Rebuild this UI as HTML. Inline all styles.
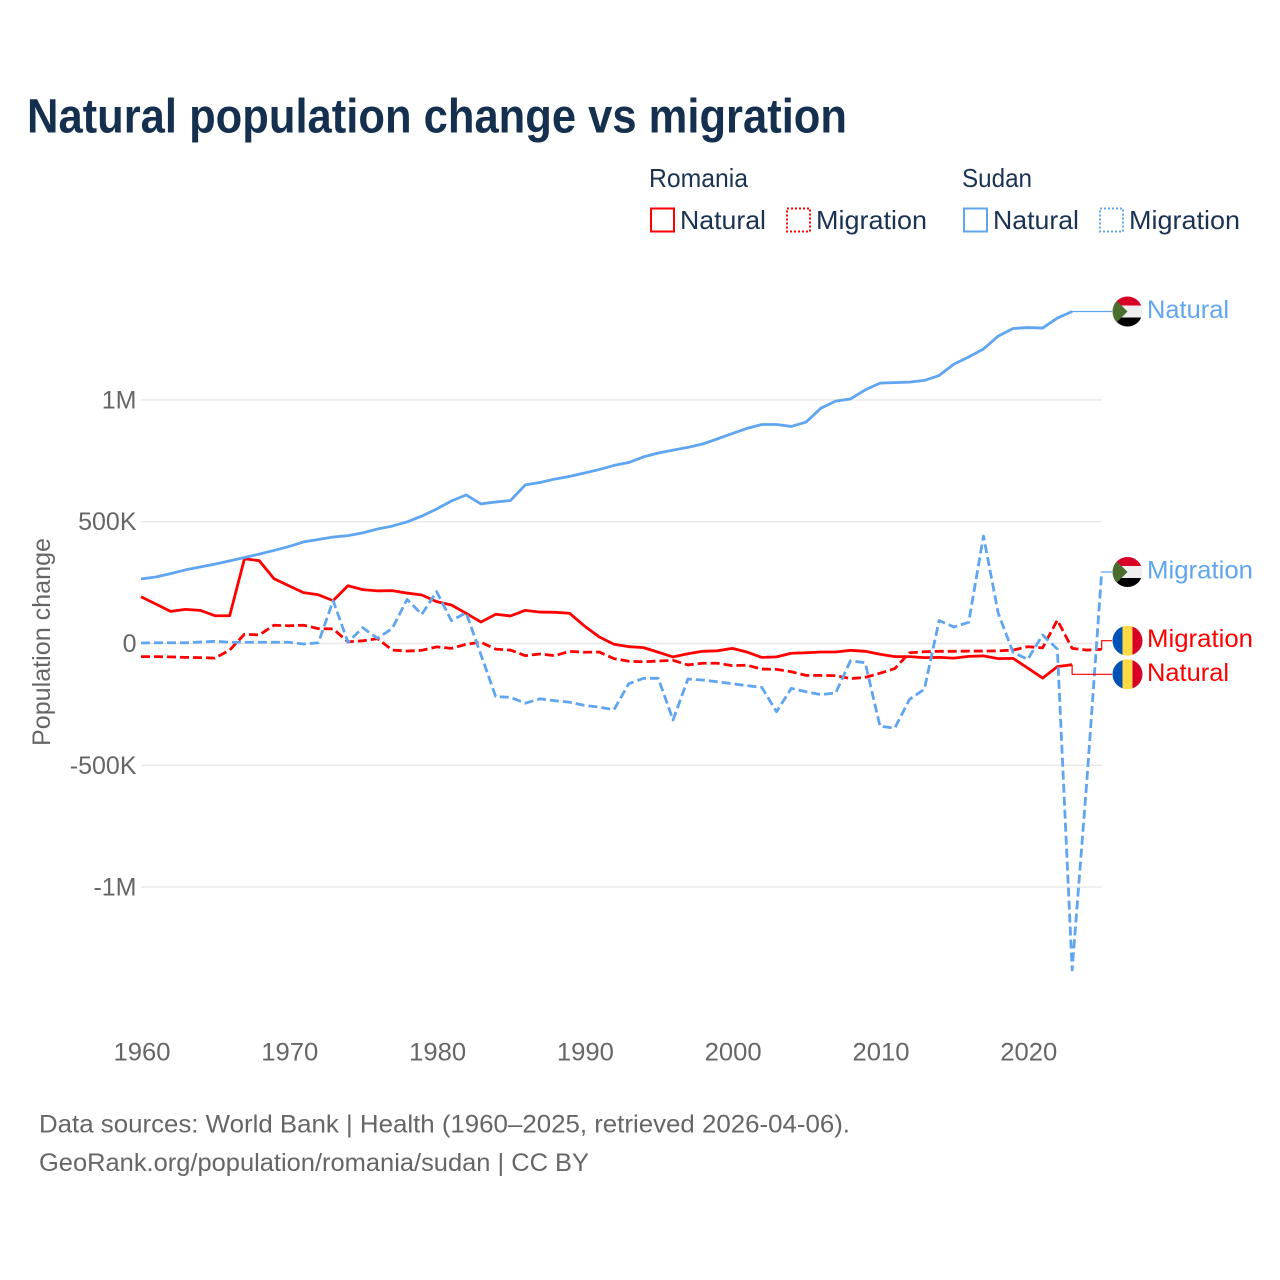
<!DOCTYPE html>
<html lang="en">
<head>
<meta charset="utf-8">
<title>Natural population change vs migration</title>
<style>
html,body{margin:0;padding:0;background:#fff;}
svg{display:block;font-family:"Liberation Sans",sans-serif;}
</style>
</head>
<body>
<svg id="chart" width="1280" height="1280" viewBox="0 0 1280 1280" xmlns="http://www.w3.org/2000/svg">
  <defs>
    <clipPath id="flag-clip"><circle cx="0" cy="0" r="15"/></clipPath>
    <g id="flag-sudan">
      <g clip-path="url(#flag-clip)">
        <rect x="-15" y="-15" width="30" height="9" fill="#d80027"/>
        <rect x="-15" y="-6" width="30" height="12" fill="#eeeeee"/>
        <rect x="-15" y="6" width="30" height="9" fill="#000000"/>
        <polygon points="-15,-15 0,0 -15,15" fill="#496e2d"/>
      </g>
    </g>
    <g id="flag-romania">
      <g clip-path="url(#flag-clip)">
        <rect x="-15" y="-15" width="10" height="30" fill="#0052b4"/>
        <rect x="-5" y="-15" width="10" height="30" fill="#ffda44"/>
        <rect x="5" y="-15" width="10" height="30" fill="#d80027"/>
      </g>
    </g>
  </defs>

  <rect x="0" y="0" width="1280" height="1280" fill="#ffffff"/>

  <text x="27" y="132.5" font-size="48" font-weight="700" fill="#15304f" textLength="820" lengthAdjust="spacingAndGlyphs">Natural population change vs migration</text>

  <g font-size="26" fill="#1a3352">
    <text x="649" y="187" textLength="99" lengthAdjust="spacingAndGlyphs">Romania</text>
    <text x="962" y="187" textLength="70" lengthAdjust="spacingAndGlyphs">Sudan</text>

    <g>
      <rect x="651" y="208.5" width="23" height="23" fill="none" stroke="#ff0000" stroke-width="2"/>
      <text x="680" y="229" textLength="86" lengthAdjust="spacingAndGlyphs">Natural</text>
    </g>
    <g>
      <rect x="787" y="208.5" width="23" height="23" fill="none" stroke="#ff0000" stroke-width="2" stroke-dasharray="2 2"/>
      <text x="816" y="229" textLength="111" lengthAdjust="spacingAndGlyphs">Migration</text>
    </g>
    <g>
      <rect x="964" y="208.5" width="23" height="23" fill="none" stroke="#60a5f0" stroke-width="2"/>
      <text x="993" y="229" textLength="86" lengthAdjust="spacingAndGlyphs">Natural</text>
    </g>
    <g>
      <rect x="1100" y="208.5" width="23" height="23" fill="none" stroke="#60a5f0" stroke-width="2" stroke-dasharray="2 2"/>
      <text x="1129" y="229" textLength="111" lengthAdjust="spacingAndGlyphs">Migration</text>
    </g>
  </g>

  <g id="grid"></g>
  <g id="y-ticks"></g>
  <g id="x-ticks"></g>
  <text transform="translate(50,642) rotate(-90)" text-anchor="middle" font-size="25" fill="#666666" textLength="208" lengthAdjust="spacingAndGlyphs">Population change</text>

  <g id="series"></g>
  <g id="end-labels"></g>

  <g font-size="25" fill="#666666">
    <text x="39" y="1132.5" textLength="811" lengthAdjust="spacingAndGlyphs">Data sources: World Bank | Health (1960–2025, retrieved 2026-04-06).</text>
    <text x="39" y="1171" textLength="550" lengthAdjust="spacingAndGlyphs">GeoRank.org/population/romania/sudan | CC BY</text>
  </g>
</svg>

<script>
var startYear = 1960;
var xTickYears = [1960, 1970, 1980, 1990, 2000, 2010, 2020];
var yTickValues = [1000, 500, 0, -500, -1000];
var yTickLabels = ["1M", "500K", "0", "-500K", "-1M"];

/* All values in thousands of people, one per year from 1960 */
var romaniaNatural = [192,162,132,140,136,114,114,348,340,266,
  237,209,200,176,237,221,216,217,207,199,
  172,158,124,88,120,113,136,129,128,124,
  72,27,-3,-13,-17,-36,-55,-42,-32,-30,
  -20,-35,-57,-55,-40,-38,-35,-35,-28,-32,
  -44,-54,-54,-58,-57,-60,-53,-51,-62,-61,
  -101,-142,-95,-87];
var romaniaMigration = [-54,-54,-55,-57,-58,-60,-27,38,35,75,
  73,75,61,60,7,11,20,-27,-31,-28,
  -14,-20,-3,5,-23,-27,-50,-43,-50,-32,
  -36,-35,-62,-73,-75,-72,-69,-88,-81,-81,
  -91,-89,-105,-106,-116,-131,-131,-132,-144,-139,
  -122,-103,-38,-34,-32,-32,-31,-31,-30,-27,
  -13,-18,96,-20,-27,-24];
var sudanNatural = [265,273,287,302,314,326,339,353,367,382,
  398,417,427,437,443,454,470,482,499,523,
  552,585,610,573,581,587,651,661,675,686,
  700,714,731,743,766,782,794,805,819,840,
  862,883,899,899,891,909,966,995,1004,1041,
  1069,1071,1073,1080,1100,1147,1176,1209,1262,1293,
  1297,1295,1336,1363];
var sudanMigration = [2,3,3,3,6,9,5,5,5,5,
  5,-2,3,176,5,65,21,62,181,120,
  213,94,126,-46,-218,-221,-245,-227,-235,-241,
  -254,-261,-272,-165,-143,-143,-314,-146,-150,-157,
  -165,-173,-180,-280,-184,-198,-210,-203,-71,-79,
  -340,-347,-229,-188,94,68,87,441,124,-36,
  -65,35,-23,-1340,-560,294];

function xScale(year) { return 141 + (year - startYear) * 14.78; }
function yScale(value) { return 643.5 - value * 0.2436; }

var NS = "http://www.w3.org/2000/svg";
function make(tag, attrs, parent) {
  var el = document.createElementNS(NS, tag);
  for (var k in attrs) { el.setAttribute(k, attrs[k]); }
  parent.appendChild(el);
  return el;
}

var gridGroup = document.getElementById("grid");
var yTickGroup = document.getElementById("y-ticks");
yTickValues.forEach(function (v, i) {
  var line = make("line", {x1: 141, x2: 1102, y1: yScale(v), y2: yScale(v), stroke: "#e8e8e8", "stroke-width": 1.4}, gridGroup);
  
  
  var t = make("text", {x: 136.5, y: yScale(v) + 8.5, "text-anchor": "end", "font-size": 25, fill: "#666666"}, yTickGroup);
  t.textContent = yTickLabels[i];
  
  
});

var xTickGroup = document.getElementById("x-ticks");
xTickYears.forEach(function (yr) {
  var t = make("text", {x: xScale(yr) + 1, y: 1060.5, "text-anchor": "middle", "font-size": 25, fill: "#666666", textLength: 57, lengthAdjust: "spacingAndGlyphs"}, xTickGroup);
  t.textContent = String(yr);
  
  
});

function linePath(values) {
  return values.map(function (v, i) {
    return (i ? "L" : "M") + xScale(startYear + i).toFixed(2) + " " + yScale(v).toFixed(2);
  }).join(" ");
}

var seriesGroup = document.getElementById("series");
var labelGroup = document.getElementById("end-labels");
var RED = "#ff0000";
var BLUE = "#60a5f0";

function drawLine(values, color, dashed) {
  var attrs = {d: linePath(values), fill: "none", stroke: color, "stroke-width": 2.8, "stroke-linejoin": "round"};
  if (dashed) { attrs["stroke-dasharray"] = "9 4"; }
  return make("path", attrs, seriesGroup);
}

var lineRomaniaNatural = drawLine(romaniaNatural, RED, false);


var lineRomaniaMigration = drawLine(romaniaMigration, RED, true);


var lineSudanNatural = drawLine(sudanNatural, BLUE, false);


var lineSudanMigration = drawLine(sudanMigration, BLUE, true);



function drawEnd(values, labelY, color, flag, label, width) {
  var ex = xScale(startYear + values.length - 1);
  var ey = yScale(values[values.length - 1]);
  var conn = make("path", {d: "M" + ex + " " + ey + " L" + ex + " " + labelY + " L1112 " + labelY, fill: "none", stroke: color, "stroke-width": 1.2}, labelGroup);
  
  
  var icon = make("use", {href: "#" + flag, x: 1127.5, y: labelY}, labelGroup);
  
  
  var t = make("text", {x: 1147, y: labelY + 6.5, "font-size": 25, fill: color, textLength: width, lengthAdjust: "spacingAndGlyphs"}, labelGroup);
  t.textContent = label;
  
  
}

drawEnd(sudanNatural, 311.5, BLUE, "flag-sudan", "Natural", 82);
drawEnd(sudanMigration, 572, BLUE, "flag-sudan", "Migration", 106);
drawEnd(romaniaMigration, 640.7, RED, "flag-romania", "Migration", 106);
drawEnd(romaniaNatural, 674.3, RED, "flag-romania", "Natural", 82);
</script>
</body>
</html>
